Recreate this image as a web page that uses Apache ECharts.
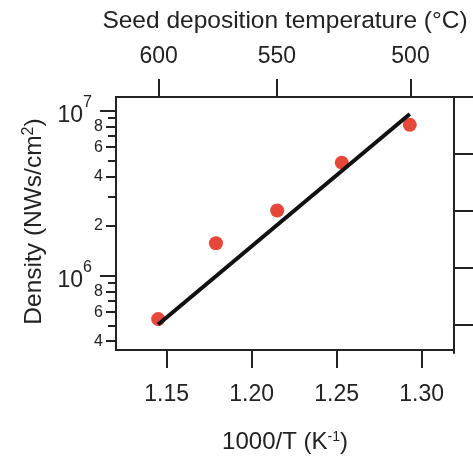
<!DOCTYPE html>
<html>
<head>
<meta charset="utf-8">
<script src="https://cdn.jsdelivr.net/npm/echarts@6/dist/echarts.min.js"></script>
<style>
html,body{margin:0;padding:0;background:#fff;}
#chart{width:473px;height:459px;}
</style>
</head>
<body>
<div id="chart"></div>
<script>
// ---- data ----
var invT = [1.145, 1.179, 1.215, 1.253, 1.293];           // 1000/T (K^-1)
var density = [5.45e5, 1.57e6, 2.48e6, 4.84e6, 8.2e6];      // NWs/cm^2
var fitX = [1.145, 1.293];
var fitY = [5.05e5, 9.55e6];
var bottomTicks = [1.15, 1.20, 1.25, 1.30];
var topTempC = [600, 550, 500];
var yMajor = [1e6, 1e7];
var yMinorLabeled = [4e5, 6e5, 8e5, 2e6, 4e6, 6e6, 8e6];
var yMinorPlain = [5e5, 7e5, 9e5, 3e6, 5e6, 7e6, 9e6];
var sideTicks = [1, 3, 5, 7];

var xMin = 1.1202, xMax = 1.319;
var yMin = 3.54e5, yMax = 1.21e7;
var ink = '#222';
var font = 'Liberation Sans, Arial, Helvetica, sans-serif';

var topTickVals = topTempC.map(function (t) { return 1000 / (t + 273.15); });

var chart = echarts.init(document.getElementById('chart'), null, {renderer: 'canvas'});

function logAxis(extra) {
  var base = {
    type: 'log', gridIndex: 0, position: 'left', min: yMin, max: yMax,
    axisLine: {show: true, lineStyle: {color: ink, width: 2}},
    splitLine: {show: false}, minorTick: {show: false}, minorSplitLine: {show: false}
  };
  for (var k in extra) base[k] = extra[k];
  return base;
}

var option = {
  backgroundColor: '#fff',
  animation: false,
  textStyle: {fontFamily: font, color: ink},
  grid: [
    {left: 116, right: 19, top: 97, bottom: 106, containLabel: false},
    {left: 454, right: 0, top: 97, bottom: 106, containLabel: false}
  ],
  xAxis: [
    {
      type: 'value', gridIndex: 0, position: 'bottom', min: xMin, max: xMax,
      axisLine: {show: true, onZero: false, lineStyle: {color: ink, width: 2}},
      axisTick: {show: true, inside: false, length: 18, lineStyle: {color: ink, width: 2}, customValues: bottomTicks},
      axisLabel: {show: true, customValues: bottomTicks, margin: 33, fontSize: 23, color: ink, fontFamily: font,
        formatter: function (v) { return v.toFixed(2); }},
      splitLine: {show: false},
      name: '1000/T (K{sup|-1})', nameLocation: 'middle', nameGap: 80,
      nameTextStyle: {fontSize: 24, color: ink, fontFamily: font,
        rich: {sup: {fontSize: 14, verticalAlign: 'top', color: ink, fontFamily: font, padding: [0, 0, 10, 0]}}}
    },
    {
      type: 'value', gridIndex: 0, position: 'top', min: xMin, max: xMax,
      axisLine: {show: true, onZero: false, lineStyle: {color: ink, width: 2}},
      axisTick: {show: true, inside: false, length: 18, lineStyle: {color: ink, width: 2}, customValues: topTickVals},
      axisLabel: {show: true, customValues: topTickVals, margin: 29, fontSize: 23, color: ink, fontFamily: font,
        formatter: function (v) { return String(Math.round(1000 / v - 273.15)); }},
      splitLine: {show: false},
      name: 'Seed deposition temperature (°C)', nameLocation: 'middle', nameGap: 63,
      nameTextStyle: {fontSize: 24.5, color: ink, fontFamily: font}
    },
    {
      type: 'value', gridIndex: 1, position: 'top', min: 0, max: 1,
      axisLine: {show: true, onZero: false, lineStyle: {color: ink, width: 2}},
      axisTick: {show: false}, axisLabel: {show: false}, splitLine: {show: false}
    }
  ],
  yAxis: [
    logAxis({
      axisTick: {show: true, length: 16, lineStyle: {color: ink, width: 2}, customValues: yMajor},
      axisLabel: {show: true, customValues: yMajor, margin: 24, color: ink, fontFamily: font,
        formatter: function (v) { return '{b|10}{s|' + Math.round(Math.log10(v)) + '}'; },
        rich: {
          b: {fontSize: 23, color: ink, fontFamily: font, padding: [10, 0, 0, 0]},
          s: {fontSize: 16, color: ink, fontFamily: font, verticalAlign: 'top'}
        }},
      name: 'Density (NWs/cm{sup|2})', nameLocation: 'middle', nameGap: 67,
      nameTextStyle: {fontSize: 24.5, color: ink, fontFamily: font, padding: [0, 0, 0, 4],
        rich: {sup: {fontSize: 16, verticalAlign: 'top', color: ink, fontFamily: font, padding: [0, 0, 12, 0]}}}
    }),
    logAxis({
      axisTick: {show: true, length: 10, lineStyle: {color: ink, width: 2}, customValues: yMinorLabeled},
      axisLabel: {show: true, customValues: yMinorLabeled, margin: 13, fontSize: 16, color: ink, fontFamily: font,
        formatter: function (v) { return String(Math.round(v / Math.pow(10, Math.floor(Math.log10(v) + 1e-9)))); }}
    }),
    logAxis({
      axisTick: {show: true, length: 8, lineStyle: {color: ink, width: 2}, customValues: yMinorPlain},
      axisLabel: {show: false}
    }),
    {
      type: 'value', gridIndex: 1, position: 'left', min: 0, max: 9,
      axisLine: {show: true, onZero: false, lineStyle: {color: ink, width: 2}},
      axisTick: {show: true, inside: true, length: 20, lineStyle: {color: ink, width: 2}, customValues: sideTicks},
      axisLabel: {show: false}, splitLine: {show: false}
    }
  ],
  series: [
    {
      type: 'scatter', xAxisIndex: 0, yAxisIndex: 0, z: 2,
      symbol: 'circle', symbolSize: 14,
      itemStyle: {color: '#e5483a', opacity: 1},
      data: invT.map(function (x, i) { return [x, density[i]]; })
    },
    {
      type: 'line', xAxisIndex: 0, yAxisIndex: 0, z: 3,
      showSymbol: false, symbol: 'none',
      lineStyle: {color: '#111', width: 4},
      data: fitX.map(function (x, i) { return [x, fitY[i]]; })
    }
  ]
};
chart.setOption(option);
</script>
</body>
</html>
